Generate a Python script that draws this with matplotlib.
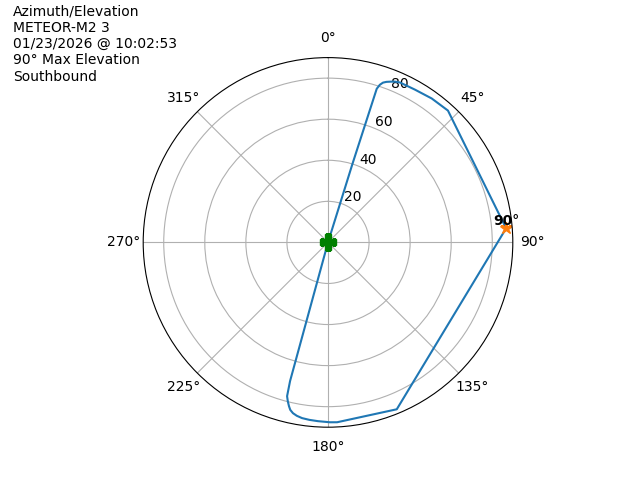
import numpy as np
import matplotlib
matplotlib.use("Agg")
import matplotlib.pyplot as plt

# Pass track: azimuth (deg) and plotted radius (elevation, deg)
azimuth = [17.0, 17.3, 17.6, 18.2, 19.0, 20.0, 21.1, 22.6, 24.2, 29.6,
           35.8, 42.3, 85.5, 157.6, 177.1, 179.4, 183.2, 186.0, 188.4,
           190.2, 191.6, 192.7, 193.4, 194.2, 194.9, 195.3, 195.5]
elevation = [0.0, 40.0, 78.5, 80.8, 82.3, 83.2, 83.9, 84.8, 85.4, 85.6,
             86.4, 86.8, 87.0, 87.9, 87.7, 87.6, 87.2, 86.9, 86.5,
             85.8, 84.9, 83.6, 82.0, 79.8, 77.5, 70.0, 0.0]

max_az = 85.5
max_el = 87.0
max_label = "90°"

title_lines = [
    "Azimuth/Elevation",
    "METEOR-M2 3",
    "01/23/2026 @ 10:02:53",
    "90° Max Elevation",
    "Southbound",
]

fig = plt.figure(figsize=(6.4, 4.8), dpi=100)
ax = fig.add_subplot(111, projection="polar")
ax.set_theta_zero_location("N")
ax.set_theta_direction(-1)

ax.plot(np.radians(azimuth), elevation, color="C0")
ax.plot(np.radians(max_az), max_el, marker="*", color="C1", markersize=9)
ax.text(np.radians(max_az), max_el, max_label, ha="center", va="bottom",
        fontweight="bold")
ax.plot(0, 0, marker="P", color="green", markersize=11)

ax.set_rlim(0, 90)
ax.set_rticks([20, 40, 60, 80])

fig.text(0.02, 0.99, "\n".join(title_lines), ha="left", va="top")

plt.savefig("out.png")
